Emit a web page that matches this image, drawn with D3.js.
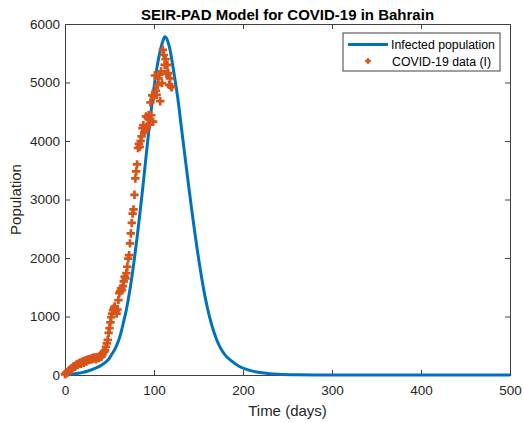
<!DOCTYPE html>
<html>
<head>
<meta charset="utf-8">
<script src="https://cdn.jsdelivr.net/npm/d3@7"></script>
<style>
  html, body { margin: 0; padding: 0; background: #fff; }
  svg { display: block; }
  text { font-family: "Liberation Sans", Arial, Helvetica, sans-serif; }
</style>
</head>
<body>
<svg id="chart" width="524" height="423"></svg>
<script>
// ---- Data ----
const title = "SEIR-PAD Model for COVID-19 in Bahrain";
const xLabel = "Time (days)";
const yLabel = "Population";
const xTicks = [0, 100, 200, 300, 400, 500];
const yTicks = [0, 1000, 2000, 3000, 4000, 5000, 6000];
const seriesNames = ["Infected population", "COVID-19 data (I)"];

// Model curve (day, infected)
const modelDays = [0, 5, 10, 15, 20, 25, 30, 35, 40, 45, 50, 52, 56, 60, 63, 66, 69, 72, 75, 78, 81, 84, 87, 90, 93, 96, 99, 102, 105, 108, 110, 112, 114, 116, 118, 121, 124, 127, 130, 133, 136, 139, 142, 145, 148, 151, 154, 157, 160, 163, 166, 170, 174, 180, 187, 195, 204, 212, 219, 230, 240, 260, 300, 350, 400, 450, 500];
const modelValues = [0, 8, 18, 30, 45, 65, 90, 120, 160, 210, 290, 340, 440, 580, 730, 920, 1120, 1370, 1660, 1990, 2350, 2740, 3150, 3580, 4010, 4420, 4800, 5130, 5400, 5610, 5710, 5780, 5760, 5680, 5560, 5300, 5010, 4700, 4330, 3960, 3590, 3225, 2870, 2530, 2205, 1900, 1620, 1370, 1150, 960, 800, 620, 480, 340, 240, 155, 95, 62, 42, 22, 12, 4, 1, 0, 0, 0, 0];

// Observed data (day, infected)
const dataDays = [0,1,2,3,4,5,6,7,8,9,10,11,12,13,14,15,16,17,18,19,20,21,22,23,24,25,26,27,28,29,30,31,32,33,34,35,36,37,38,39,40,41,42,43,44,45,46,47,48,49,50,51,52,53,54,55,56,57,58,59,60,61,62,63,64,65,66,67,68,69,70,71,72,73,74,75,76,77,78,79,80,81,82,83,84,85,86,87,88,89,90,91,92,93,94,95,96,97,98,99,100,101,102,103,104,105,106,107,108,109,110,111,112,113,114,115,116,117,118,119,120];
const dataValues = [10,30,50,40,70,80,90,110,100,130,150,140,160,180,170,190,200,210,190,220,230,210,240,250,230,260,250,270,260,280,270,290,280,300,290,270,300,310,290,320,330,310,350,380,400,420,480,540,600,720,800,900,990,1050,1110,1150,1170,1100,1050,1120,1280,1400,1430,1480,1450,1520,1600,1680,1650,1740,1850,1990,2050,2250,2420,2600,2760,2830,3080,3360,3480,3600,3880,3950,3900,4000,4080,4220,4270,4150,4180,4420,4250,4390,4440,4280,4660,4440,4780,4330,4760,5120,4860,4790,4960,5070,5130,4680,5190,4990,5560,5470,5300,5400,5150,5300,5160,4960,5070,4930,4920];

// ---- Layout ----
const W = 524, H = 423;
const m = { left: 65, right: 14, top: 24, bottom: 48 };
const blue = "#0072BD", orange = "#D95319", axisColor = "#404040";

const svg = d3.select("#chart");
const x = d3.scaleLinear().domain([0, 500]).range([m.left, W - m.right]);
const y = d3.scaleLinear().domain([0, 6000]).range([H - m.bottom, m.top]);

const tickLen = 5;
const fmt = d3.format("d");
// Axes (ticks inward)
const gx = svg.append("g").attr("transform", `translate(0,${y(0)})`)
  .call(d3.axisBottom(x).tickValues(xTicks).tickSize(-tickLen).tickPadding(10).tickFormat(fmt));
const gy = svg.append("g").attr("transform", `translate(${x(0)},0)`)
  .call(d3.axisLeft(y).tickValues(yTicks).tickSize(-tickLen).tickPadding(5).tickFormat(fmt));
const gxt = svg.append("g").attr("transform", `translate(0,${y(6000)})`)
  .call(d3.axisTop(x).tickValues(xTicks).tickSize(-tickLen).tickFormat(""));
const gyr = svg.append("g").attr("transform", `translate(${x(500)},0)`)
  .call(d3.axisRight(y).tickValues(yTicks).tickSize(-tickLen).tickFormat(""));
[gx, gy, gxt, gyr].forEach(g => {
  g.select(".domain").attr("stroke", axisColor).attr("stroke-width", 1);
  g.selectAll(".tick line").attr("stroke", axisColor).attr("stroke-width", 1);
  g.selectAll(".tick text").attr("fill", "#262626").attr("font-size", 13.5)
    .style("font-family", '"Liberation Sans", Arial, Helvetica, sans-serif');
});

// Model line
const pts = modelDays.map((d, i) => [d, modelValues[i]]);
const line = d3.line().x(d => x(d[0])).y(d => y(d[1])).curve(d3.curveMonotoneX);
svg.append("path").datum(pts).attr("d", line)
  .attr("fill", "none").attr("stroke", blue).attr("stroke-width", 3)
  .attr("stroke-linejoin", "round");

// Data markers (+)
const plusPath = s => `M${-s},0H${s}M0,${-s}V${s}`;
svg.append("g").selectAll("path").data(dataDays.map((d, i) => [d, dataValues[i]]))
  .join("path")
  .attr("transform", d => `translate(${x(d[0])},${y(d[1])})`)
  .attr("d", plusPath(4.2))
  .attr("stroke", orange).attr("stroke-width", 2.7).attr("fill", "none");

// Title and labels
svg.append("text").attr("x", (x(0) + x(500)) / 2).attr("y", 20)
  .attr("text-anchor", "middle").attr("font-size", 15).attr("font-weight", "bold")
  .attr("fill", "#000").text(title);
svg.append("text").attr("x", (x(0) + x(500)) / 2).attr("y", 416)
  .attr("text-anchor", "middle").attr("font-size", 15).attr("fill", "#262626").text(xLabel);
svg.append("text").attr("transform", `translate(21,${(y(0) + y(6000)) / 2}) rotate(-90)`)
  .attr("text-anchor", "middle").attr("font-size", 15).attr("fill", "#262626").text(yLabel);

// Legend
const lg = svg.append("g");
lg.append("rect").attr("x", 343).attr("y", 33).attr("width", 157).attr("height", 38)
  .attr("fill", "#fff").attr("stroke", "#404040").attr("stroke-width", 1);
lg.append("line").attr("x1", 348).attr("x2", 388).attr("y1", 44.5).attr("y2", 44.5)
  .attr("stroke", blue).attr("stroke-width", 3);
lg.append("path").attr("transform", "translate(368,61)").attr("d", plusPath(2.8))
  .attr("stroke", orange).attr("stroke-width", 2.4);
lg.append("text").attr("x", 391).attr("y", 49).attr("font-size", 12.3).attr("fill", "#000").text(seriesNames[0]);
lg.append("text").attr("x", 392).attr("y", 65.5).attr("font-size", 12.3).attr("fill", "#000").text(seriesNames[1]);
</script>
</body>
</html>
